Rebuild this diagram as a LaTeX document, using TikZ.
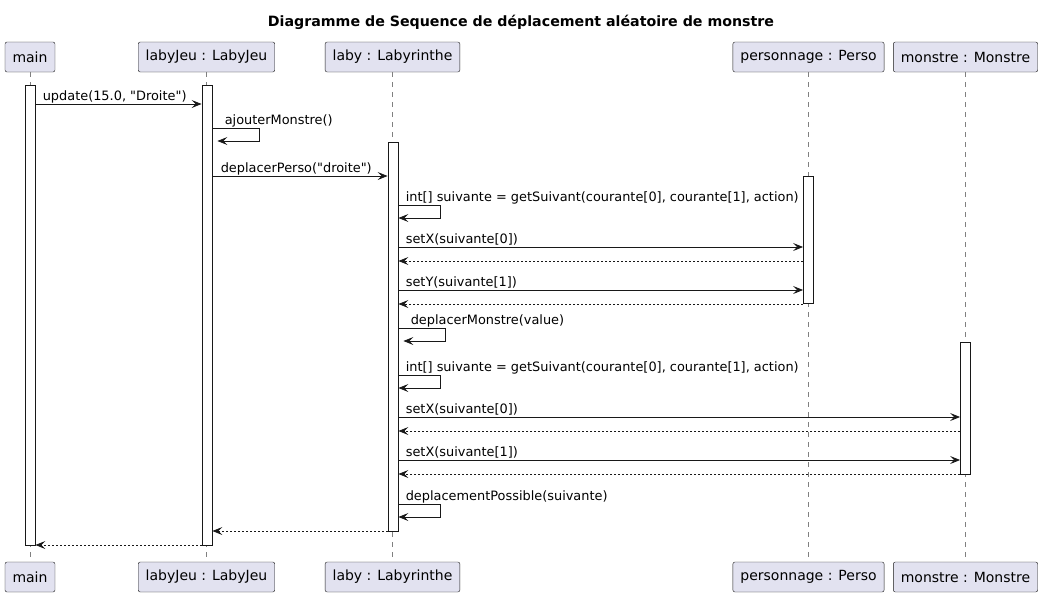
\documentclass[tikz,border=0pt]{standalone}
\usepackage{fontspec}
\setmainfont{DejaVu Sans}
\usetikzlibrary{arrows.meta}
\definecolor{partfill}{HTML}{E2E2F0}
\definecolor{linec}{HTML}{181818}

\begin{document}
\begin{tikzpicture}[x=1pt, y=-1pt]
		\tikzset{part/.style={draw = linec, fill = partfill, rounded corners = 2pt, minimum height = 30pt, inner xsep = 7.5pt, inner ysep = 0pt, font = \fontsize{14}{16}\selectfont}}
		\tikzset{life/.style={draw = linec!55, line width = 0.5pt, dash pattern = on 5pt off 5pt}}
		\tikzset{act/.style={draw = linec, fill = white, line width = 0.8pt, minimum width = 10pt, inner sep = 0pt, anchor = north}}
		\tikzset{msg/.style={draw = linec, line width = 0.8pt, -{Stealth[length = 10pt, width = 8pt, inset = 4pt]}}}
		\tikzset{ret/.style={msg, dash pattern = on 2pt off 2pt}}
		\tikzset{lbl/.style={anchor = base west, inner sep = 0pt, yshift = 4pt, text = black, font = \fontsize{12.9}{15}\selectfont}}
					\useasboundingbox (0,0) rectangle (1042,597);
					%title
					\node[font = \bfseries\fontsize{14.2}{16}\selectfont] (title) at (521, 22) {Diagramme de Sequence de déplacement aléatoire de monstre};
					%participants
					\node[part] (main) at (30, 57) {main};
					\node[part] (jeu) at (206.5, 57) {labyJeu : LabyJeu};
					\node[part] (laby) at (392.5, 57) {laby : Labyrinthe};
					\node[part] (perso) at (808.5, 57) {personnage : Perso};
					\node[part] (mons) at (965.5, 57) {monstre : Monstre};
					\node[part] (main2) at (30, 577) {main};
					\node[part] (jeu2) at (206.5, 577) {labyJeu : LabyJeu};
					\node[part] (laby2) at (392.5, 577) {laby : Labyrinthe};
					\node[part] (perso2) at (808.5, 577) {personnage : Perso};
					\node[part] (mons2) at (965.5, 577) {monstre : Monstre};
					%lifelines
					\draw[life] (main) -- (main2);
					\draw[life] (jeu) -- (jeu2);
					\draw[life] (laby) -- (laby2);
					\draw[life] (perso) -- (perso2);
					\draw[life] (mons) -- (mons2);
					%activations
					\node[act, minimum height = 460pt] (mainact) at (30, 85) {};
					\node[act, minimum height = 460pt] (jeuact) at (207, 85) {};
					\node[act, minimum height = 389pt] (labyact) at (393, 142) {};
					\node[act, minimum height = 127pt] (persoact) at (808.5, 176) {};
					\node[act, minimum height = 132pt] (monsact) at (965.5, 342) {};
					%messages
					\draw[msg] (mainact.east |- 0,104) -- node[lbl, pos = 0, xshift = 7pt] (m1) {update(15.0, \textquotedbl Droite\textquotedbl)} (jeuact.west |- 0,104);
					\draw[msg] (jeuact.east |- 0,128) -- node[lbl, pos = 0, xshift = 12pt] (m2) {ajouterMonstre()} ++(47,0) -- ++(0,13) -- ++(-42,0);
					\draw[msg] (jeuact.east |- 0,176) -- node[lbl, pos = 0, xshift = 8pt] (m3) {deplacerPerso(\textquotedbl droite\textquotedbl)} (labyact.west |- 0,176);
					\draw[msg] (labyact.east |- 0,205) -- node[lbl, pos = 0, xshift = 7pt] (m4) {int[] suivante = getSuivant(courante[0], courante[1], action)} ++(42,0) -- ++(0,13) -- ++(-42,0);
					\draw[msg] (labyact.east |- 0,247) -- node[lbl, pos = 0, xshift = 7pt] (m5) {setX(suivante[0])} (persoact.west |- 0,247);
					\draw[ret] (persoact.west |- 0,261) -- (labyact.east |- 0,261);
					\draw[msg] (labyact.east |- 0,290) -- node[lbl, pos = 0, xshift = 7pt] (m6) {setY(suivante[1])} (persoact.west |- 0,290);
					\draw[ret] (persoact.west |- 0,304) -- (labyact.east |- 0,304);
					\draw[msg] (labyact.east |- 0,328) -- node[lbl, pos = 0, xshift = 12pt] (m7) {deplacerMonstre(value)} ++(47,0) -- ++(0,13) -- ++(-42,0);
					\draw[msg] (labyact.east |- 0,375) -- node[lbl, pos = 0, xshift = 7pt] (m8) {int[] suivante = getSuivant(courante[0], courante[1], action)} ++(42,0) -- ++(0,13) -- ++(-42,0);
					\draw[msg] (labyact.east |- 0,417) -- node[lbl, pos = 0, xshift = 7pt] (m9) {setX(suivante[0])} (monsact.west |- 0,417);
					\draw[ret] (monsact.west |- 0,431) -- (labyact.east |- 0,431);
					\draw[msg] (labyact.east |- 0,460) -- node[lbl, pos = 0, xshift = 7pt] (m10) {setX(suivante[1])} (monsact.west |- 0,460);
					\draw[ret] (monsact.west |- 0,474) -- (labyact.east |- 0,474);
					\draw[msg] (labyact.east |- 0,504) -- node[lbl, pos = 0, xshift = 7pt] (m11) {deplacementPossible(suivante)} ++(42,0) -- ++(0,13) -- ++(-42,0);
					\draw[ret] (labyact.west |- 0,531) -- (jeuact.east |- 0,531);
					\draw[ret] (jeuact.west |- 0,545) -- (mainact.east |- 0,545);
					
					\end{tikzpicture}
\end{document}
